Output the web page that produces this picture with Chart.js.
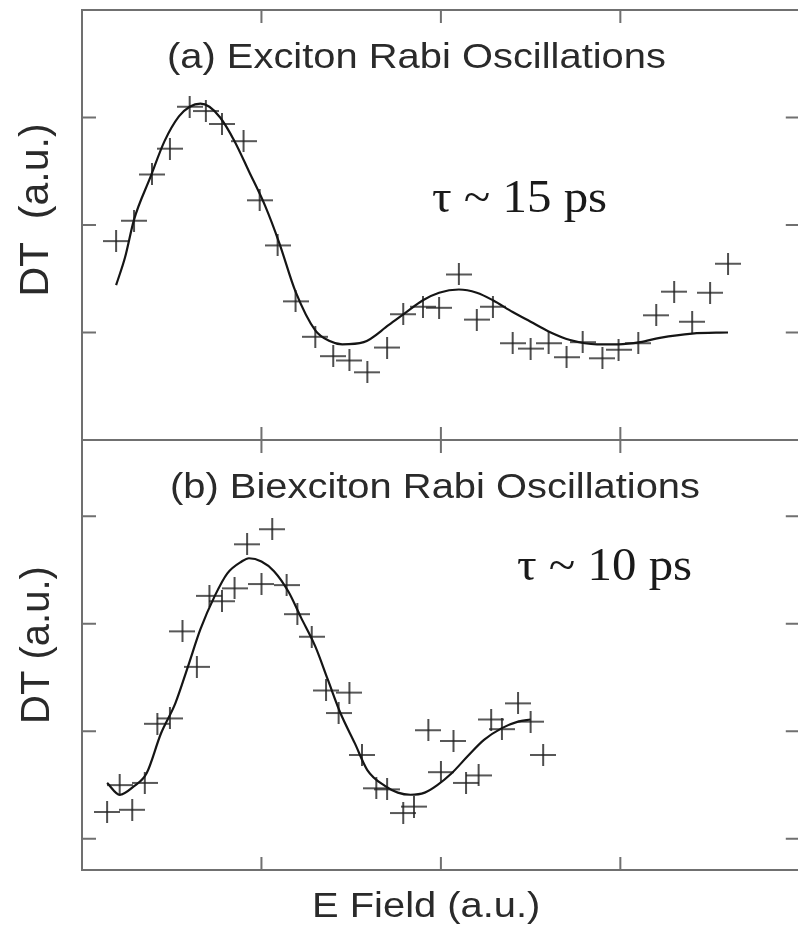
<!DOCTYPE html>
<html>
<head>
<meta charset="utf-8">
<script src="https://cdn.jsdelivr.net/npm/chart.js@4.4.1/dist/chart.umd.min.js"></script>
<style>
  html, body { margin: 0; padding: 0; background: #fff; overflow: hidden; width: 798px; height: 931px; }
  canvas { position: absolute; left: 0; }
  #chartA { top: 0; width: 798px; height: 460px; }
  #chartB { top: 420px; width: 798px; height: 511px; }
</style>
</head>
<body>
<canvas id="chartA" width="798" height="460"></canvas>
<canvas id="chartB" width="798" height="511"></canvas>
<script>
// (a) exciton: measured points and fitted curve
var excitonField = [0.19, 0.29, 0.39, 0.49, 0.60, 0.69, 0.78, 0.90, 0.99, 1.09, 1.19, 1.30, 1.40, 1.49, 1.59, 1.70, 1.79, 1.90, 1.99, 2.10, 2.20, 2.29, 2.40, 2.50, 2.60, 2.70, 2.79, 2.90, 2.99, 3.10, 3.20, 3.30, 3.40, 3.50, 3.60];
var excitonDT    = [1.85, 2.04, 2.47, 2.71, 3.10, 3.06, 2.94, 2.78, 2.23, 1.81, 1.29, 0.96, 0.78, 0.74, 0.63, 0.86, 1.17, 1.24, 1.23, 1.54, 1.12, 1.24, 0.90, 0.85, 0.90, 0.77, 0.91, 0.76, 0.84, 0.90, 1.16, 1.38, 1.10, 1.37, 1.64];
var excitonFitField = [0.19, 0.24, 0.29, 0.38, 0.46, 0.54, 0.60, 0.66, 0.71, 0.77, 0.85, 0.93, 1.02, 1.10, 1.19, 1.30, 1.38, 1.45, 1.57, 1.71, 1.80, 1.90, 1.99, 2.10, 2.20, 2.29, 2.40, 2.50, 2.60, 2.72, 2.87, 2.99, 3.11, 3.22, 3.40, 3.60];
var excitonFitDT    = [1.44, 1.70, 2.05, 2.44, 2.78, 3.01, 3.10, 3.13, 3.10, 3.00, 2.78, 2.50, 2.18, 1.83, 1.38, 1.02, 0.92, 0.89, 0.91, 1.07, 1.18, 1.30, 1.37, 1.40, 1.37, 1.30, 1.19, 1.10, 1.01, 0.93, 0.89, 0.89, 0.91, 0.95, 0.99, 1.00];

// (b) biexciton: measured points and fitted curve
var biexField = [0.14, 0.21, 0.28, 0.35, 0.42, 0.49, 0.56, 0.64, 0.71, 0.78, 0.85, 0.92, 1.00, 1.06, 1.14, 1.20, 1.28, 1.36, 1.43, 1.49, 1.56, 1.64, 1.70, 1.79, 1.85, 1.93, 2.00, 2.07, 2.14, 2.21, 2.28, 2.34, 2.43, 2.50, 2.57];
var biexDT    = [0.25, 0.50, 0.27, 0.52, 1.07, 1.12, 1.93, 1.60, 2.26, 2.21, 2.33, 2.74, 2.37, 2.88, 2.36, 2.09, 1.88, 1.38, 1.17, 1.36, 0.78, 0.47, 0.46, 0.24, 0.30, 1.01, 0.62, 0.91, 0.52, 0.59, 1.11, 1.02, 1.26, 1.09, 0.78];
var biexFitField = [0.14, 0.21, 0.29, 0.36, 0.44, 0.52, 0.59, 0.66, 0.74, 0.81, 0.89, 0.93, 1.00, 1.07, 1.15, 1.22, 1.30, 1.37, 1.44, 1.52, 1.59, 1.69, 1.76, 1.83, 1.91, 1.98, 2.06, 2.15, 2.24, 2.34, 2.43, 2.50];
var biexFitDT    = [0.52, 0.41, 0.49, 0.61, 0.98, 1.26, 1.60, 1.95, 2.26, 2.47, 2.58, 2.61, 2.58, 2.49, 2.30, 2.06, 1.79, 1.48, 1.17, 0.89, 0.64, 0.49, 0.43, 0.41, 0.43, 0.50, 0.61, 0.77, 0.92, 1.03, 1.09, 1.11];

// unlabeled tick positions and the field range of the frame
var fieldTicks = [1, 2, 3];
var fieldRange = [0, 4];
var excitonTicks = [1, 2, 3];
var biexTicks = [0, 1, 2, 3];

var SANS = '"Liberation Sans", Arial, sans-serif';
var SERIF = '"Liberation Serif", "Times New Roman", serif';
var SX = 1.14;  // horizontal text stretch

function pairs(xs, ys) {
    return xs.map(function (x, i) { return { x: x, y: ys[i] }; });
}

function makeCross(w, h, lw, color) {
    var c = document.createElement('canvas');
    c.width = w; c.height = h;
    var g = c.getContext('2d');
    g.strokeStyle = color;
    g.lineWidth = lw;
    g.beginPath();
    g.moveTo(0, h / 2); g.lineTo(w, h / 2);
    g.moveTo(w / 2, 0); g.lineTo(w / 2, h);
    g.stroke();
    return c;
}
var cross = makeCross(26, 22, 1.6, '#222');

function drawText(ctx, t) {
    ctx.save();
    ctx.fillStyle = t.color || '#2a2a2a';
    ctx.font = t.font;
    ctx.textBaseline = 'alphabetic';
    ctx.translate(t.x, t.y);
    if (t.rotate) {
        ctx.rotate(-Math.PI / 2);
        ctx.textAlign = 'center';
    } else {
        ctx.scale(t.sx || 1, 1);
        ctx.textAlign = 'left';
    }
    ctx.fillText(t.text, 0, 0);
    ctx.restore();
}

// frame, inward ticks on every side, and the panel texts.
// The frame's right edge (field = 4) falls just past the canvas.
var framePlugin = {
    id: 'frame',
    afterDraw: function (chart, args, opts) {
        var ctx = chart.ctx, a = chart.chartArea;
        var xs = chart.scales.x, ys = chart.scales.y;
        var left = xs.getPixelForValue(fieldRange[0]);
        var right = xs.getPixelForValue(fieldRange[1]);
        ctx.save();
        ctx.strokeStyle = '#707070';
        ctx.lineWidth = 2;
        ctx.strokeRect(left, a.top, right - left, a.bottom - a.top);
        ctx.beginPath();
        fieldTicks.forEach(function (v) {
            var px = xs.getPixelForValue(v);
            ctx.moveTo(px, a.top); ctx.lineTo(px, a.top + 13);
            ctx.moveTo(px, a.bottom); ctx.lineTo(px, a.bottom - 13);
        });
        opts.yTicks.forEach(function (v) {
            var py = ys.getPixelForValue(v);
            ctx.moveTo(left, py); ctx.lineTo(left + 14, py);
            ctx.moveTo(right, py); ctx.lineTo(right - 14, py);
        });
        ctx.stroke();
        ctx.restore();
        opts.texts.forEach(function (t) { drawText(ctx, t); });
    }
};

function makePanel(id, ptsX, ptsY, fitX, fitY, yMin, yMax, yTicks, pad, texts) {
    return new Chart(document.getElementById(id), {
        type: 'scatter',
        data: {
            datasets: [
                {
                    data: pairs(fitX, fitY),
                    showLine: true,
                    borderColor: '#151515',
                    borderWidth: 2.2,
                    pointRadius: 0,
                    cubicInterpolationMode: 'monotone'
                },
                {
                    data: pairs(ptsX, ptsY),
                    showLine: false,
                    pointStyle: cross,
                    pointRadius: 12
                }
            ]
        },
        options: {
            responsive: false,
            animation: false,
            devicePixelRatio: 1,
            layout: { padding: pad, autoPadding: false },
            scales: {
                // visible field window ends at the canvas edge
                x: { type: 'linear', min: 0, max: 3.99, display: false },
                y: { type: 'linear', min: yMin, max: yMax, display: false }
            },
            plugins: {
                legend: { display: false },
                tooltip: { enabled: false },
                frame: { yTicks: yTicks, texts: texts }
            }
        },
        plugins: [framePlugin]
    });
}

makePanel('chartA', excitonField, excitonDT, excitonFitField, excitonFitDT, 0, 4, excitonTicks,
    { left: 82, right: 0, top: 10, bottom: 20 },
    [
        { text: '(a) Exciton Rabi Oscillations', x: 167, y: 68, font: '35px ' + SANS, sx: SX },
        { text: 'τ ~ 15 ps', x: 432, y: 212, font: '47px ' + SERIF, sx: 1.04, color: '#1a1a1a' },
        { text: 'DT  (a.u.)', x: 48, y: 210, font: '41px ' + SANS, rotate: true }
    ]);

makePanel('chartB', biexField, biexDT, biexFitField, biexFitDT, -0.29, 3.71, biexTicks,
    { left: 82, right: 0, top: 20, bottom: 61 },
    [
        { text: '(b) Biexciton Rabi Oscillations', x: 170, y: 78, font: '35px ' + SANS, sx: SX },
        { text: 'τ ~ 10 ps', x: 517, y: 160, font: '47px ' + SERIF, sx: 1.04, color: '#1a1a1a' },
        { text: 'DT (a.u.)', x: 49, y: 225, font: '40px ' + SANS, rotate: true },
        { text: 'E Field (a.u.)', x: 312, y: 497, font: '35px ' + SANS, sx: SX }
    ]);
</script>
</body>
</html>
